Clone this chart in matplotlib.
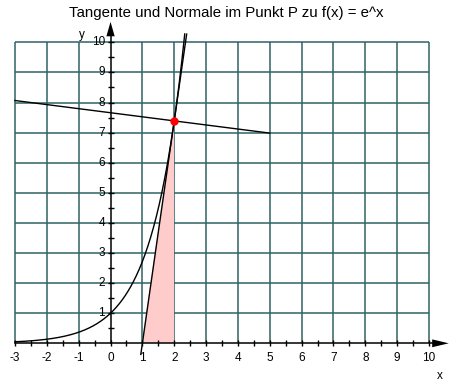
import numpy as np
import matplotlib.pyplot as plt

# values
x_ticks = list(range(-3, 11))
y_ticks = list(range(1, 11))
x_p = 2.0
curve_x = (-3.0, 2.33)
tangent_x = (0.95, 2.39)
normal_x = (-3.0, 5.0)

grid_col = '#2f6363'
fam = ['Liberation Sans', 'DejaVu Sans']

fig = plt.figure(figsize=(4.52, 3.85), dpi=100)
ax = fig.add_axes([0, 0, 1, 1])
# pixel mapping: x=-3 at 15px, x=10 at 429px ; y=0 at 343px, y=10 at 42px
sx = 414 / 13.0
sy = 301 / 10.0
x0 = 15 - (-3) * sx
y0 = 343.3
ax.set_xlim(-x0 / sx, (452 - x0) / sx)
ax.set_ylim(-(385 - y0) / sy, y0 / sy)
ax.set_axis_off()

# grid
ax.hlines(y_ticks, -3, 10, color=grid_col, lw=1.1, zorder=1)
ax.vlines([t for t in x_ticks if t != 0], 0, 10, color=grid_col, lw=1.1, zorder=1)

# shaded triangle under the tangent between its zero and P
fp = np.exp(x_p)
x_zero = x_p - 1
ax.fill([x_zero, x_p, x_p], [0, 0, fp], color='#ffcccc', lw=0, zorder=2)

# axes with arrows
ax.plot([-3, 10.15], [0, 0], color='black', lw=1.1, zorder=4)
ax.plot([0, 0], [0, 10.25], color='black', lw=1.1, zorder=4)
ax.fill([10.1, 10.62, 10.1], [0.13, 0, -0.13], color='black', lw=0, zorder=4)
ax.fill([-0.13, 0, 0.13], [10.2, 10.68, 10.2], color='black', lw=0, zorder=4)

half = np.arange(-3, 10.01, 0.5)
ax.vlines(half, -0.1, 0.1, color='black', lw=1, zorder=4)
halfy = np.arange(0.5, 10.01, 0.5)
ax.hlines(halfy, -0.095, 0.095, color='black', lw=1, zorder=4)

for t in x_ticks:
    ax.text(t, -0.5, str(t), ha='center', va='center', fontsize=8.5, family=fam)
for t in y_ticks:
    ax.text(-0.17, t, str(t), ha='right', va='center', fontsize=8.5, family=fam)
ax.text(-0.9, 10.25, 'y', ha='center', va='center', fontsize=8.5, family=fam)
ax.text(10.35, -1.07, 'x', ha='center', va='center', fontsize=8.5, family=fam)

# function, tangent, normal
xs = np.linspace(curve_x[0], curve_x[1], 300)
ax.plot(xs, np.exp(xs), color='black', lw=1, zorder=5)
xt = np.array(tangent_x)
ax.plot(xt, fp * (xt - x_p) + fp, color='black', lw=1, zorder=5)
xn = np.array(normal_x)
ax.plot(xn, fp - (xn - x_p) / fp, color='black', lw=1, zorder=5)

ax.plot([x_p], [fp], 'o', color='red', ms=5, zorder=6)

fig.text(0.5, 1 - 13 / 385, 'Tangente und Normale im Punkt P zu f(x) = e^x',
         ha='center', va='center', fontsize=10.8, family=fam)

fig.savefig('out.png', dpi=100)
